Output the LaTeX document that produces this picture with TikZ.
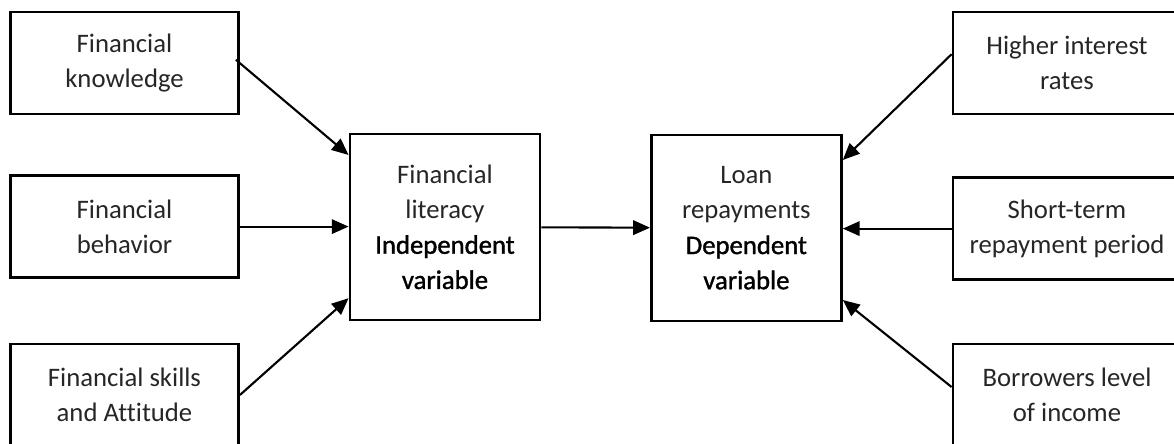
\documentclass[tikz,border=0pt]{standalone}
\usepackage{fontspec}
\setmainfont[Ligatures=NoCommon]{Carlito}
\newfontfamily\varfont[FakeBold=1.3,Ligatures=NoCommon]{Carlito}
\usetikzlibrary{arrows.meta}

\begin{document}
\begin{tikzpicture}
    \tikzset{box/.style={draw, line width=2pt, align=center, minimum width=5.7cm, minimum height=2.55cm, font=\fontsize{19}{25}\selectfont, text=black!85}}
    \tikzset{mainbox/.style={box, minimum width=4.75cm, minimum height=4.65cm}}
    \tikzset{link/.style={line width=1.5pt, -{Triangle[length=0.42cm, width=0.36cm]}}}

    \useasboundingbox (0,0) rectangle (29.35,11.075);
    \clip (0,0) rectangle (29.35,11.075);

    % left column
    \node[box] (knowledge) at (3.1125,9.5) {Financial\\knowledge};
    \node[box] (behavior) at (3.1125,5.41) {Financial\\behavior};
    \node[box] (skills) at (3.1125,1.2) {Financial skills\\and Attitude};

    % the two variables
    \node[mainbox] (literacy) at (11.125,5.4) {Financial\\literacy\\{\varfont\color{black}Independent}\\{\varfont\color{black}variable}};
    \node[mainbox] (repay) at (18.66,5.375) {Loan\\repayments\\{\varfont\color{black}Dependent}\\{\varfont\color{black}variable}};

    % right column
    \node[box] (interest) at (26.675,9.5) {Higher interest\\rates};
    \node[box] (period) at (26.675,5.36) {Short-term\\repayment period};
    \node[box] (income) at (26.675,1.2) {Borrowers level\\of income};

    \draw[link] ([shift={(-0.1,0.08)}]knowledge.east) -- ([yshift=1.8cm]literacy.west);
    \draw[link] (behavior.east) -- (behavior.east -| literacy.west);
    \draw[link] (skills.east) -- ([yshift=-1.78cm]literacy.west);
    \draw[link] (literacy) -- (repay);
    \draw[link] ([yshift=0.22cm]interest.west) -- ([yshift=1.7cm]repay.east);
    \draw[link] (period.west) -- (period.west -| repay.east);
    \draw[link] ([yshift=0.2cm]income.west) -- ([yshift=-1.8cm]repay.east);
\end{tikzpicture}
\end{document}
